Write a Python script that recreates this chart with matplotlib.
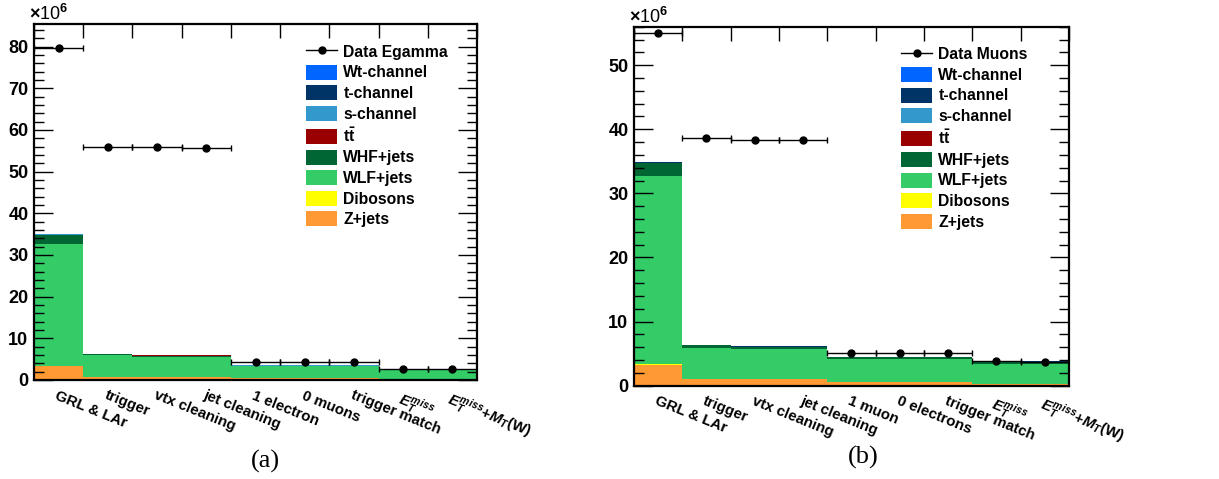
import numpy as np
import matplotlib
matplotlib.use('Agg')
import matplotlib.pyplot as plt
from matplotlib.lines import Line2D
from matplotlib.patches import Patch
from matplotlib.ticker import MultipleLocator

plt.rcParams['font.family'] = ['Liberation Sans', 'DejaVu Sans']
plt.rcParams['font.weight'] = 'bold'
plt.rcParams['mathtext.fontset'] = 'custom'
plt.rcParams['mathtext.rm'] = 'Liberation Sans:bold'
plt.rcParams['mathtext.it'] = 'Liberation Sans:italic:bold'
plt.rcParams['mathtext.bf'] = 'Liberation Sans:bold'

# cut names (x 10^6 events)
cuts_el = ['GRL & LAr', 'trigger', 'vtx cleaning', 'jet cleaning', '1 electron',
           '0 muons', 'trigger match', r'$E_{T}^{miss}$', r'$E_{T}^{miss}$+$M_{T}$(W)']
cuts_mu = ['GRL & LAr', 'trigger', 'vtx cleaning', 'jet cleaning', '1 muon',
           '0 electrons', 'trigger match', r'$E_{T}^{miss}$', r'$E_{T}^{miss}$+$M_{T}$(W)']

# electron channel
data_el = [79.7, 56.0, 55.8, 55.7, 4.4, 4.4, 4.4, 2.7, 2.65]
zjets_el = [3.4, 0.8, 0.8, 0.8, 0.4, 0.4, 0.4, 0.2, 0.2]
dib_el = [0.05, 0.02, 0.02, 0.02, 0.02, 0.02, 0.02, 0.015, 0.015]
wlf_el = [29.2, 5.1, 4.8, 4.8, 2.9, 2.9, 2.9, 2.2, 2.2]
whf_el = [2.2, 0.25, 0.22, 0.22, 0.12, 0.12, 0.12, 0.1, 0.1]
ttbar_el = [0.05, 0.04, 0.04, 0.04, 0.03, 0.03, 0.03, 0.03, 0.03]
schan_el = [0.01, 0.01, 0.01, 0.01, 0.01, 0.01, 0.01, 0.01, 0.01]
tchan_el = [0.08, 0.05, 0.05, 0.05, 0.03, 0.03, 0.03, 0.03, 0.03]
wt_el = [0.03, 0.02, 0.02, 0.02, 0.01, 0.01, 0.01, 0.01, 0.01]

# muon channel
data_mu = [55.0, 38.6, 38.3, 38.3, 5.05, 5.05, 5.05, 3.8, 3.75]
zjets_mu = [3.3, 1.0, 1.0, 1.0, 0.5, 0.5, 0.5, 0.3, 0.3]
dib_mu = [0.05, 0.02, 0.02, 0.02, 0.02, 0.02, 0.02, 0.015, 0.015]
wlf_mu = [29.3, 4.9, 4.7, 4.7, 3.7, 3.7, 3.7, 3.1, 3.1]
whf_mu = [2.1, 0.35, 0.3, 0.3, 0.2, 0.2, 0.2, 0.3, 0.3]
ttbar_mu = [0.05, 0.04, 0.04, 0.04, 0.03, 0.03, 0.03, 0.03, 0.03]
schan_mu = [0.01, 0.01, 0.01, 0.01, 0.01, 0.01, 0.01, 0.01, 0.01]
tchan_mu = [0.08, 0.05, 0.05, 0.05, 0.03, 0.03, 0.03, 0.03, 0.03]
wt_mu = [0.03, 0.02, 0.02, 0.02, 0.01, 0.01, 0.01, 0.01, 0.01]

names = ['Z+jets', 'Dibosons', 'WLF+jets', 'WHF+jets', r'$\mathbf{t\bar{t}}$',
         's-channel', 't-channel', 'Wt-channel']
colors = ['#ff9933', '#ffff00', '#33cc66', '#006633', '#990000',
          '#3399cc', '#003366', '#0066ff']


def cutflow(ax, cuts, data, stack, data_label, ymax):
    x = np.arange(len(cuts)) + 0.5
    bottom = np.zeros(len(cuts))
    for vals, col in zip(stack, colors):
        ax.bar(x, vals, width=1.0, bottom=bottom, color=col, linewidth=0, zorder=1)
        bottom += np.array(vals)
    ax.errorbar(x, data, xerr=0.5, fmt='o', color='k', ms=5, lw=1,
                capsize=2, capthick=1, zorder=3)

    ax.set_xlim(0, len(cuts))
    ax.set_ylim(0, ymax)
    ax.set_xticks(x)
    ax.set_xticklabels(cuts, rotation=-22, ha='left', va='top',
                       rotation_mode='anchor', fontsize=10.8)
    ax.set_xticks(np.arange(len(cuts) + 1), minor=True)
    ax.tick_params(axis='x', which='major', length=0, pad=6)
    ax.tick_params(axis='x', which='minor', top=True, bottom=False,
                   direction='in', length=10, width=1)
    ax.yaxis.set_major_locator(MultipleLocator(10))
    ax.yaxis.set_minor_locator(MultipleLocator(2))
    ax.tick_params(axis='y', which='major', left=True, right=True,
                   direction='in', length=14, width=1, labelsize=13, pad=4)
    ax.tick_params(axis='y', which='minor', left=True, right=True,
                   direction='in', length=7, width=1)
    for sp in ax.spines.values():
        sp.set_linewidth(1.6)
        sp.set_zorder(5)
    ax.text(-0.012, 1.0, r'$\times$10$^{6}$', transform=ax.transAxes,
            ha='left', va='bottom', fontsize=13, fontweight='normal')

    handles = [Line2D([], [], color='k', marker='o', ms=5, lw=1)]
    labels = [data_label]
    for n, c in zip(names[::-1], colors[::-1]):
        handles.append(Patch(facecolor=c, edgecolor='none'))
        labels.append(n)
    ax.legend(handles, labels, loc='upper left', bbox_to_anchor=(0.615, 0.945),
              frameon=False, fontsize=11.3, handlelength=1.95, handleheight=1.1,
              handletextpad=0.4, labelspacing=0.3, borderpad=0, borderaxespad=0)


fig = plt.figure(figsize=(12.19, 4.79), dpi=100)
ax1 = fig.add_axes([0.0279, 0.2067, 0.3634, 0.7422])
ax2 = fig.add_axes([0.5201, 0.1948, 0.3568, 0.7495])

cutflow(ax1, cuts_el, data_el,
        [zjets_el, dib_el, wlf_el, whf_el, ttbar_el, schan_el, tchan_el, wt_el],
        'Data Egamma', 85.3)
cutflow(ax2, cuts_mu, data_mu,
        [zjets_mu, dib_mu, wlf_mu, whf_mu, ttbar_mu, schan_mu, tchan_mu, wt_mu],
        'Data Muons', 56.0)

fig.text(265 / 1219, 1 - 461 / 479, '(a)', ha='center', va='center',
         family='Liberation Serif', fontweight='normal', fontsize=19)
fig.text(863 / 1219, 1 - 457 / 479, '(b)', ha='center', va='center',
         family='Liberation Serif', fontweight='normal', fontsize=19)

fig.savefig('out.png', dpi=100)
